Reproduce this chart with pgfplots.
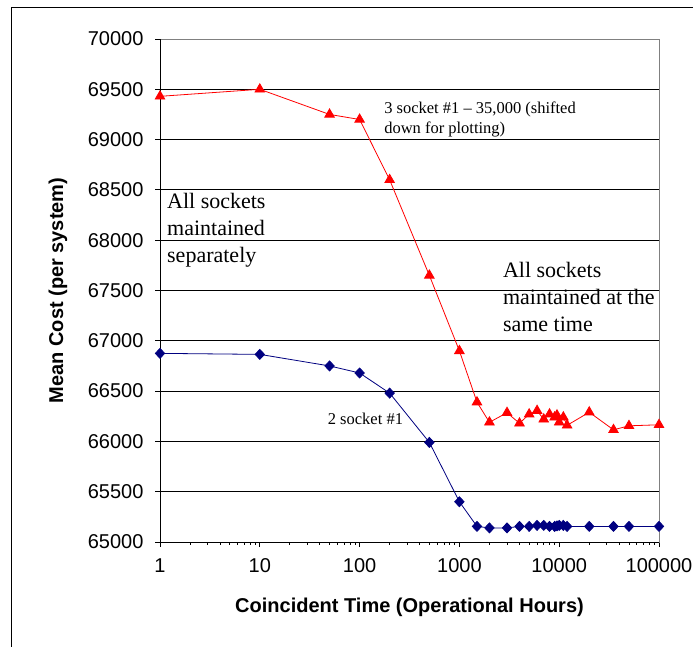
\documentclass[border=0pt]{standalone}
\usepackage{pgfplots}
\pgfplotsset{compat=1.18}
\usepackage{fontspec}
\setmainfont{Liberation Serif}
\newfontfamily\arial{Liberation Sans}
\begin{document}
\begin{tikzpicture}[x=1pt,y=1pt]
\useasboundingbox (0,0) rectangle (693,647);
\draw[line width=1pt] (11,0) -- (11,639) -- (693,639);
\begin{axis}[
  at={(160pt,105pt)}, anchor=south west,
  scale only axis, width=499pt, height=503pt,
  xmode=log, xmin=1, xmax=100000, ymin=65000, ymax=70000,
  scaled y ticks=false,
  xtick={1,10,100,1000,10000,100000},
  xticklabels={1,10,100,1000,10000,100000},
  minor xtick={},
  ytick={65000,65500,66000,66500,67000,67500,68000,68500,69000,69500,70000},
  yticklabels={65000,65500,66000,66500,67000,67500,68000,68500,69000,69500,70000},
  xtick pos=left, ytick pos=left,
  tick align=outside, major tick length=5pt,
  every tick/.style={black, line width=0.8pt},
  ymajorgrids, major grid style={black, line width=0.8pt},
  axis line style={draw=gray, line width=0.8pt},
  tick label style={font=\arial\fontsize{20}{24}\selectfont},
  xticklabel style={yshift=-8pt},
  yticklabel style={xshift=-8pt},
  xlabel={Coincident Time (Operational Hours)},
  ylabel={Mean Cost (per system)},
  label style={font=\arial\bfseries\fontsize{20}{24}\selectfont},
  xlabel style={at={(axis description cs:0.5,-0.1292)}, anchor=center},
  ylabel style={at={(axis description cs:-0.2044,0.5)}, anchor=center},
  clip=false,
]
\draw[black, line width=0.8pt] (rel axis cs:0,0) -- (rel axis cs:0,1);
\draw[black, line width=0.8pt] (rel axis cs:0,0) -- (rel axis cs:1,0);
\addplot[red, line width=0.8pt, mark=triangle*, mark size=5.5pt, mark options={solid, fill=red}] coordinates {
(1,69430)(10,69500)(50,69250)(100,69200)(200,68600)(500,67650)(1000,66900)(1500,66390)(2000,66190)(3000,66285)(4000,66180)(5000,66270)(6000,66305)(7000,66220)(8000,66270)(9000,66240)(9500,66260)(10000,66190)(11000,66240)(12000,66160)(20000,66290)(35000,66115)(50000,66155)(100000,66165)
};
\addplot[color={rgb,255:red,0;green,0;blue,128}, line width=0.8pt, mark=diamond*, mark size=5pt, mark options={solid, xscale=1.25}] coordinates {
(1,66875)(10,66865)(50,66750)(100,66680)(200,66480)(500,65990)(1000,65400)(1500,65155)(2000,65140)(3000,65140)(4000,65155)(5000,65155)(6000,65165)(7000,65165)(8000,65155)(9000,65155)(9500,65160)(10000,65165)(11000,65165)(12000,65155)(20000,65155)(35000,65155)(50000,65155)(100000,65155)
};
\node[anchor=base west, align=left, inner sep=0pt, font=\fontsize{22}{27}\selectfont] at (rel axis cs:0.014,0.5547) {All sockets\\maintained\\separately};
\node[anchor=base west, align=left, inner sep=0pt, font=\fontsize{22}{27}\selectfont] at (rel axis cs:0.687,0.4175) {All sockets\\maintained at the\\same time};
\node[anchor=base west, align=left, inner sep=0pt, font=\fontsize{16.5}{20}\selectfont] at (rel axis cs:0.449,0.813) {3 socket \#1 -- 35,000 (shifted\\down for plotting)};
\node[anchor=base west, inner sep=0pt, font=\fontsize{16.5}{20}\selectfont] at (rel axis cs:0.336,0.234) {2 socket \#1};
\end{axis}
\end{tikzpicture}
\end{document}
